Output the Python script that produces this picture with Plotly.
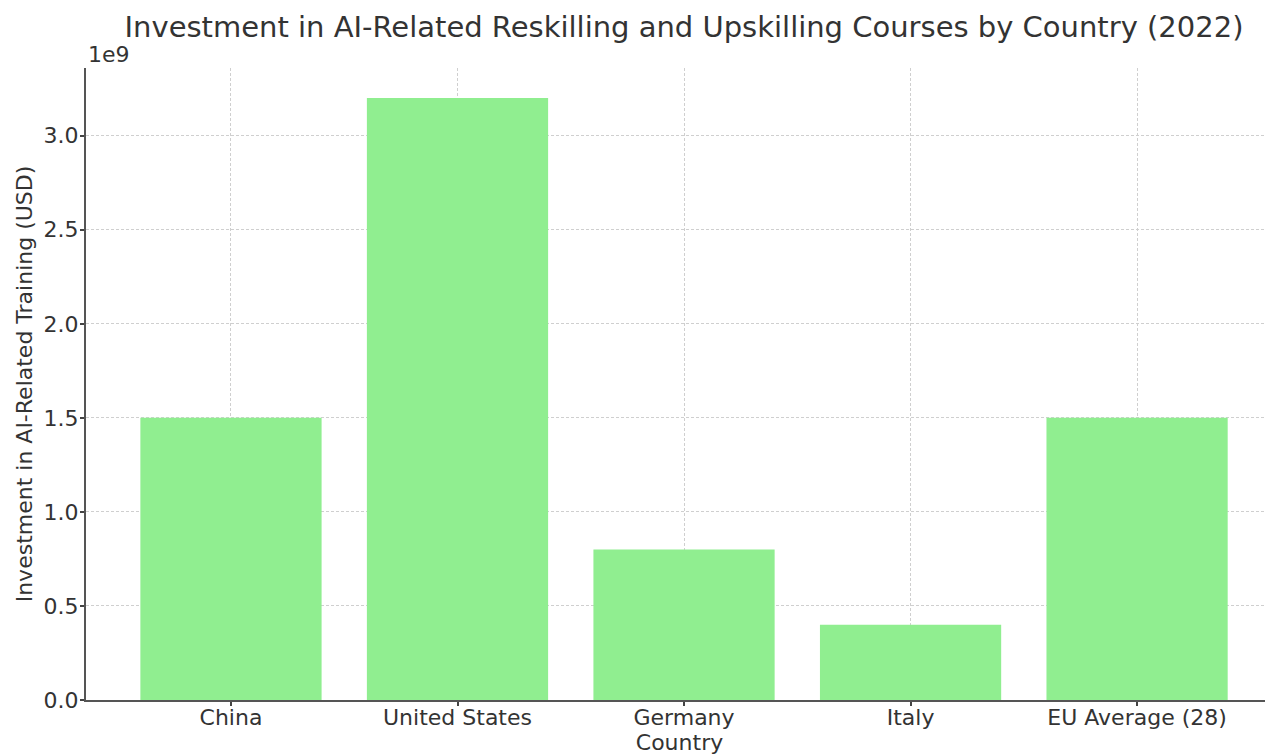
import plotly.graph_objects as go

# Données
countries = ["China", "United States", "Germany", "Italy", "EU Average (28)"]
investment_usd = [1.5e9, 3.2e9, 0.8e9, 0.4e9, 1.5e9]
y_tick_vals = [0, 0.5e9, 1.0e9, 1.5e9, 2.0e9, 2.5e9, 3.0e9]
y_tick_text = ["0.0", "0.5", "1.0", "1.5", "2.0", "2.5", "3.0"]

font_family = "DejaVu Sans, sans-serif"
text_color = "#333333"
grid_color = "#cfcfcf"

# La page a une marge de 8 px autour du graphique
fig_w, fig_h = 1265, 747

fig = go.Figure()
fig.add_trace(go.Bar(
    x=list(range(len(countries))),
    y=investment_usd,
    width=0.8,
    marker=dict(color="#90EE90", line=dict(width=0)),
    hovertext=countries,
))

fig.update_layout(
    width=fig_w,
    height=fig_h,
    paper_bgcolor="white",
    plot_bgcolor="white",
    showlegend=False,
    margin=dict(l=78, r=0, t=60, b=55),
    font=dict(family=font_family, color=text_color, size=22),
    title=dict(
        text="Investment in AI-Related Reskilling and Upskilling Courses by Country (2022)",
        x=(684 - 8) / fig_w, xanchor="center", y=1 - 19 / fig_h, yanchor="middle",
        font=dict(size=29, color=text_color),
    ),
    xaxis=dict(
        range=[-0.64, 4.6],
        tickvals=list(range(len(countries))),
        ticktext=countries,
        ticks="outside", ticklen=4, tickwidth=1.5, tickcolor="#444",
        ticklabelstandoff=-7,
        showline=True, linecolor="#555", linewidth=2,
        showgrid=True, gridcolor=grid_color, griddash="3px,2px", gridwidth=1,
        zeroline=False,
        layer="above traces",
        automargin=False,
        title=dict(text="Country", standoff=12, font=dict(size=22)),
        tickfont=dict(size=22),
    ),
    yaxis=dict(
        range=[0, 3.36e9],
        tickvals=y_tick_vals,
        ticktext=y_tick_text,
        ticks="outside", ticklen=4, tickwidth=1.5, tickcolor="#444",
        ticklabelstandoff=-3,
        showline=True, linecolor="#555", linewidth=2,
        showgrid=True, gridcolor=grid_color, griddash="3px,2px", gridwidth=1,
        zeroline=False,
        layer="above traces",
        automargin=False,
        title=dict(text="Investment in AI-Related Training (USD)", standoff=5, font=dict(size=22)),
        tickfont=dict(size=22),
    ),
)

# Multiplicateur de l'axe Y, comme matplotlib
fig.add_annotation(
    x=0, y=1, xref="paper", yref="paper",
    text="1e9", showarrow=False,
    xanchor="left", yanchor="bottom", yshift=-1,
    font=dict(size=22, color=text_color),
)

fig.write_html("out.html")
